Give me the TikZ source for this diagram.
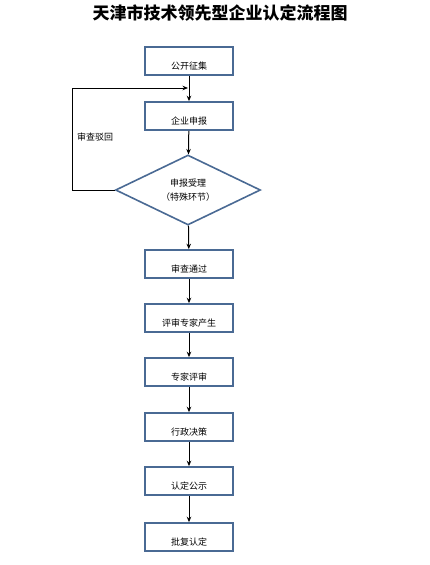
\documentclass[tikz,border=0pt]{standalone}
\usepackage{fontspec}
\newfontfamily\cjk{Noto Sans CJK SC}
\usetikzlibrary{shapes.geometric,arrows.meta}
\begin{document}
\begin{tikzpicture}[x=1pt,y=-1pt,
  box/.style={draw=boxblue, line width=1.6pt, fill=white, minimum width=88pt, minimum height=28pt, inner sep=0pt, font=\cjk\fontsize{9}{10}\selectfont, text height=16pt, text depth=0pt},
  dia/.style={draw=boxblue, line width=1.6pt, diamond, aspect=2.07, minimum width=145pt, minimum height=70pt, inner sep=0pt, align=center, font=\cjk\fontsize{9}{14}\selectfont},
  arr/.style={draw=black, line width=1pt, -{Stealth[length=5.5pt,width=4.5pt]}},
  lbl/.style={font=\cjk\fontsize{9}{10}\selectfont}]
\definecolor{boxblue}{HTML}{4A6A94}
\useasboundingbox[fill=white] (0,0) rectangle (430,565);
\node[font=\cjk\bfseries\fontsize{17}{19}\selectfont] (title) at (220,13) {天津市技术领先型企业认定流程图};
\node[box] (b1) at (189,61) {公开征集};
\node[box] (b2) at (189,116) {企业申报};
\node[dia] (d) at (188,190) {申报受理\\（特殊环节）};
\node[box] (b3) at (189,264) {审查通过};
\node[box] (b4) at (189,318) {评审专家产生};
\node[box] (b5) at (189,372) {专家评审};
\node[box] (b6) at (189,427) {行政决策};
\node[box] (b7) at (189,481) {认定公示};
\node[box] (b8) at (189,537) {批复认定};
\coordinate (m) at (188,88);
\draw[arr] (b1) -- (b2);
\draw[arr] (b2) -- (d);
\draw[arr] (d) -- (b3);
\draw[arr] (b3) -- (b4);
\draw[arr] (b4) -- (b5);
\draw[arr] (b5) -- (b6);
\draw[arr] (b6) -- (b7);
\draw[arr] (b7) -- (b8);
\draw[arr] (d.west) -- (72,190) -- (72,88) -- (m);
\node[lbl] (rej) at (95,137) {审查驳回};
\end{tikzpicture}
\end{document}
